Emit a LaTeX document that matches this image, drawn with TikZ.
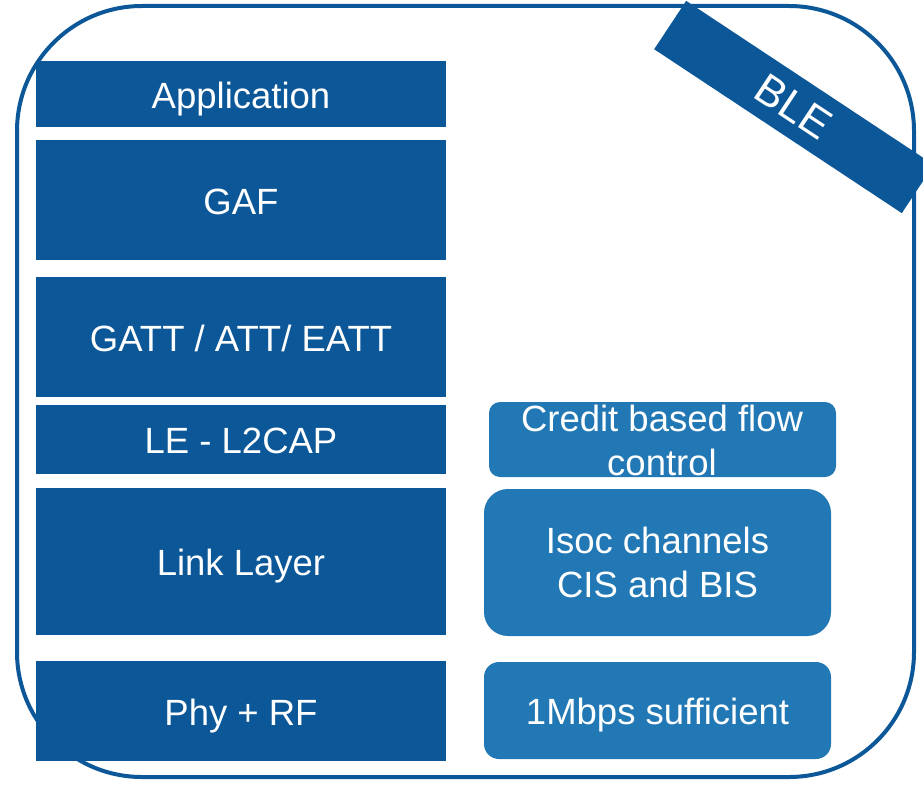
\documentclass[tikz,border=0pt]{standalone}
\usepackage{fontspec}
\setmainfont{Liberation Sans}
\definecolor{dblue}{RGB}{12,87,152}
\definecolor{lblue}{RGB}{33,120,180}
\begin{document}
\begin{tikzpicture}[x=1pt,y=-1pt,
  txt/.style={text=white,font=\fontsize{36.5}{44}\selectfont,align=center,inner sep=0pt},
  oneline/.style={text height=28pt,text depth=0pt},
  layer/.style={txt,oneline,fill=dblue,draw=none,minimum width=410,anchor=center},
  feat/.style={txt,fill=lblue,draw=none,anchor=center}]
\useasboundingbox (0,0) rectangle (923,784);
\clip (0,0) rectangle (923,784);
% outer frame
\node[draw=dblue,line width=4pt,rounded corners=125pt,minimum width=897,minimum height=771,inner sep=0pt] (frame) at (465.5,391.5) {};
% left stack
\node[layer,minimum height=66] (app) at (241,94) {Application};
\node[layer,minimum height=120] (gaf) at (241,200) {GAF};
\node[layer,minimum height=120] (gatt) at (241,337) {GATT / ATT/ EATT};
\node[layer,minimum height=69] (l2cap) at (241,439.5) {LE - L2CAP};
\node[layer,minimum height=147] (ll) at (241,561.5) {Link Layer};
\node[layer,minimum height=100] (phy) at (241,711) {Phy + RF};
% right features
\node[feat,minimum width=347,minimum height=75,rounded corners=11pt] (credit) at (662.5,439.5) {};
\node[txt] (credittxt) at (662,440) {Credit based flow\\control};
\node[feat,minimum width=347,minimum height=147,rounded corners=24pt] (isoc) at (657.5,562.5) {Isoc channels\\CIS and BIS};
\node[feat,oneline,minimum width=347,minimum height=97,rounded corners=15pt] (mbps) at (657.5,710.5) {1Mbps sufficient};
% BLE banner
\node[fill=dblue,text=white,minimum width=297,minimum height=58,inner sep=0pt,rotate=-33.5,font=\fontsize{43}{50}\selectfont] (ble) at (794,107) {BLE};
\end{tikzpicture}
\end{document}
